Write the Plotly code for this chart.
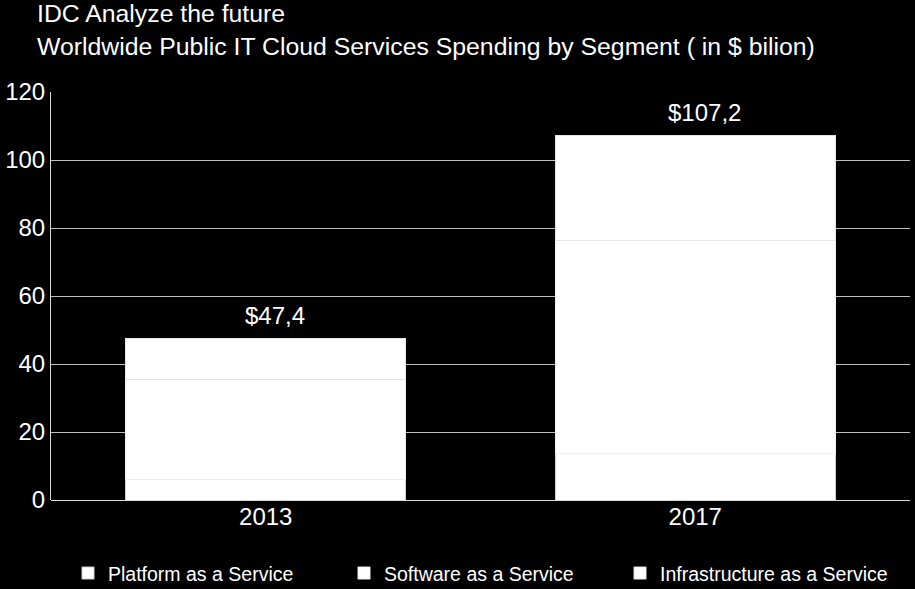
import plotly.graph_objects as go

years = ["2013", "2017"]
segments = ["Platform as a Service", "Software as a Service", "Infrastructure as a Service"]
paas = [6.1, 13.7]
saas = [29.2, 62.5]
iaas = [12.1, 31.0]
totals = [47.4, 107.2]
y_ticks = [0, 20, 40, 60, 80, 100, 120]

FONT = "Liberation Sans, Arial, sans-serif"

fig = go.Figure()
line_cols = ["#cfcfcf", "#eeeeee", "#e6e6e6"]
for name, vals, lc in zip(segments, [paas, saas, iaas], line_cols):
    fig.add_trace(go.Bar(
        x=years, y=vals, name=name,
        marker=dict(color="#ffffff", line=dict(color=lc, width=1)),
        hoverinfo="skip",
    ))

# total labels above each stack (category index positions on the category axis)
for i, tot in enumerate(totals):
    fig.add_annotation(
        x=i, y=tot, xref="x", yref="y",
        text="$" + f"{tot:.1f}".replace(".", ","),
        showarrow=False, yanchor="bottom", yshift=8, xshift=9,
        font=dict(family=FONT, size=24, color="#ffffff"),
    )

fig.update_layout(
    width=915, height=589,
    barmode="stack", bargap=0.348,
    paper_bgcolor="#000000", plot_bgcolor="#000000",
    margin=dict(l=51, r=5, t=92, b=89, autoexpand=False),
    font=dict(family=FONT, color="#ffffff", size=24),
    title=dict(
        text="IDC Analyze the future<br>Worldwide Public IT Cloud Services Spending by Segment ( in $ bilion)",
        x=37 / 915, xanchor="left", xref="container",
        y=0.962, yanchor="top", yref="container",
        font=dict(family=FONT, size=24.8, color="#ffffff"),
    ),
    xaxis=dict(
        type="category", categoryorder="array", categoryarray=years,
        range=[-0.5, len(years) - 0.5],
        showgrid=False, showline=False, ticks="",
        tickfont=dict(size=24, color="#ffffff"),
    ),
    yaxis=dict(
        range=[0, 120], tickvals=y_ticks,
        showgrid=True, gridcolor="#bfbfbf", gridwidth=1,
        zeroline=True, zerolinecolor="#d9d9d9", zerolinewidth=1,
        showline=True, linecolor="#d9d9d9", linewidth=1,
        ticks="", ticklabelstandoff=0,
        tickfont=dict(size=24, color="#ffffff"),
    ),
    legend=dict(
        orientation="h", x=0.0198, xanchor="left", y=-0.132, yanchor="top",
        traceorder="normal",
        font=dict(family=FONT, size=19.5, color="#ffffff"),
        bgcolor="rgba(0,0,0,0)",
        entrywidth=231, entrywidthmode="pixels",
    ),
)

fig.write_html(
    "out.html",
    config={"displayModeBar": False},
    post_script="document.body.style.margin='0';document.body.style.overflow='hidden';",
)
